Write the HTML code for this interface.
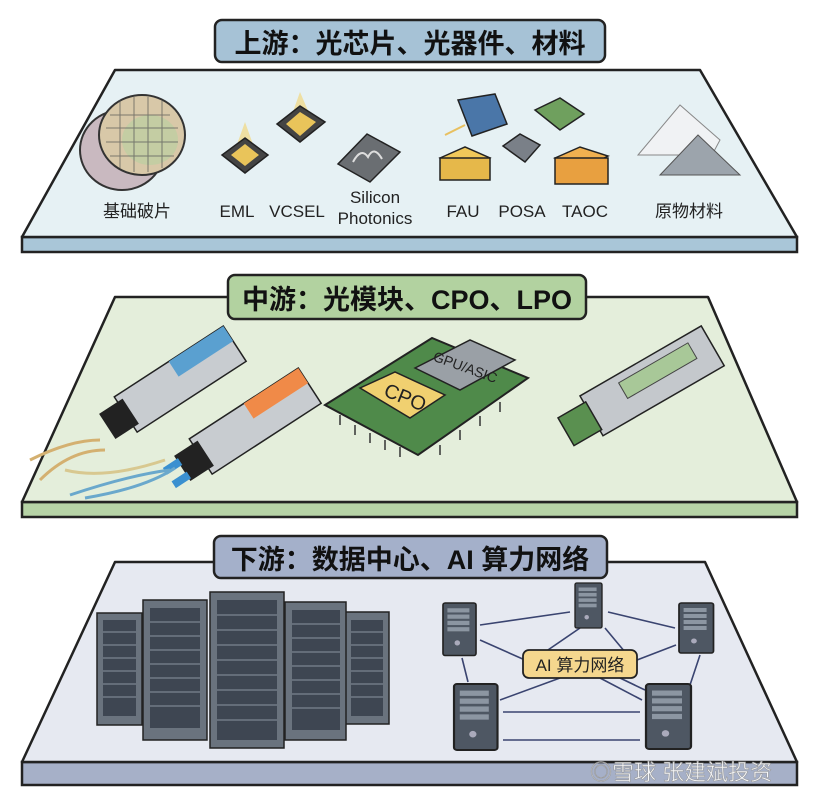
<!DOCTYPE html>
<html><head><meta charset="utf-8"><style>
html,body{margin:0;padding:0;background:#fff;width:816px;height:798px;overflow:hidden}
svg{display:block}
text{font-family:"Liberation Sans","Noto Sans CJK SC",sans-serif}
</style></head><body>
<svg width="816" height="798" viewBox="0 0 816 798" xmlns="http://www.w3.org/2000/svg">
<defs>
<g id="srv">
<rect x="0" y="0" width="30" height="50" rx="2" fill="#4e5763" stroke="#222" stroke-width="1.5"/>
<rect x="4" y="5" width="20" height="4" fill="#8c96a2"/><rect x="4" y="11" width="20" height="4" fill="#8c96a2"/>
<rect x="4" y="17" width="20" height="4" fill="#8c96a2"/><rect x="4" y="23" width="20" height="4" fill="#8c96a2"/>
<circle cx="13" cy="38" r="2.5" fill="#aab"/></g>
</defs>

<!-- ===== Panel 1 ===== -->
<polygon points="22,237 797,237 797,252 22,252" fill="#a9c6d8" stroke="#222" stroke-width="2.5"/>
<polygon points="115,70 700,70 797,237 22,237" fill="#e6f1f4" stroke="#222" stroke-width="2.5" stroke-linejoin="round"/>
<rect x="215" y="20" width="390" height="42" rx="7" fill="#a6c2d6" stroke="#222" stroke-width="2.5"/>
<text x="410" y="53" font-size="27" font-weight="bold" text-anchor="middle" fill="#111">上游：光芯片、光器件、材料</text>
<!-- wafers -->
<ellipse cx="122" cy="150" rx="42" ry="40" fill="#c9b9c0" stroke="#333" stroke-width="2"/>
<ellipse cx="142" cy="135" rx="43" ry="40" fill="#d8c8a8" stroke="#333" stroke-width="2"/>
<ellipse cx="150" cy="140" rx="28" ry="25" fill="#b8d0a0" opacity=".6"/>
<g stroke="#555" stroke-width="1" opacity=".7">
<line x1="110" y1="115" x2="170" y2="115"/><line x1="106" y1="128" x2="178" y2="128"/><line x1="106" y1="142" x2="178" y2="142"/><line x1="110" y1="156" x2="174" y2="156"/>
<line x1="120" y1="100" x2="120" y2="168"/><line x1="134" y1="97" x2="134" y2="172"/><line x1="148" y1="97" x2="148" y2="172"/><line x1="162" y1="100" x2="162" y2="168"/></g>
<!-- EML -->
<polygon points="245,122 235,150 255,150" fill="#f3d36a" opacity=".6"/>
<polygon points="245,138 268,155 245,173 222,155" fill="#444" stroke="#222" stroke-width="1.5"/>
<polygon points="245,144 259,155 245,166 231,155" fill="#e9c45a"/>
<!-- VCSEL -->
<polygon points="300,92 290,120 312,120" fill="#f3d36a" opacity=".6"/>
<polygon points="300,106 325,122 300,142 277,124" fill="#444" stroke="#222" stroke-width="1.5"/>
<polygon points="300,112 316,122 300,136 286,124" fill="#e9c45a"/>
<!-- Silicon photonics -->
<polygon points="367,134 400,152 370,182 338,164" fill="#6a6e72" stroke="#222" stroke-width="1.5"/>
<path d="M353,162 q8,-15 15,-5 q6,-12 14,2" stroke="#ddd" fill="none" stroke-width="2"/>
<!-- FAU blue -->
<polygon points="458,100 495,94 507,124 472,136" fill="#4a76a8" stroke="#222" stroke-width="1.5"/>
<line x1="445" y1="135" x2="465" y2="125" stroke="#e8c060" stroke-width="2"/>
<!-- green -->
<polygon points="535,110 560,98 584,114 560,130" fill="#6fa05e" stroke="#222" stroke-width="1.5"/>
<!-- gray POSA -->
<polygon points="503,146 520,134 540,145 525,162" fill="#7a8088" stroke="#222" stroke-width="1.5"/>
<!-- yellow FAU -->
<polygon points="440,158 465,147 490,158 465,172" fill="#f0c85a" stroke="#222" stroke-width="1.5"/>
<rect x="440" y="158" width="50" height="22" fill="#e6b84a" stroke="#222" stroke-width="1.5"/>
<!-- orange TAOC -->
<polygon points="555,158 580,147 608,156 585,168" fill="#f0b050" stroke="#222" stroke-width="1.5"/>
<rect x="555" y="158" width="53" height="26" fill="#e8a040" stroke="#222" stroke-width="1.5"/>
<!-- powder -->
<polygon points="638,155 680,105 720,140 712,155" fill="#f0f2f4" stroke="#888" stroke-width="1"/>
<polygon points="660,175 698,135 740,175" fill="#9ca4ac" stroke="#555" stroke-width="1"/>
<g font-size="17" fill="#222" text-anchor="middle">
<text x="137" y="217">基础破片</text><text x="237" y="217">EML</text><text x="297" y="217">VCSEL</text>
<text x="375" y="203">Silicon</text><text x="375" y="224">Photonics</text>
<text x="463" y="217">FAU</text><text x="522" y="217">POSA</text><text x="585" y="217">TAOC</text><text x="689" y="217">原物材料</text></g>

<!-- ===== Panel 2 ===== -->
<polygon points="22,502 797,502 797,517 22,517" fill="#b6d3a6" stroke="#222" stroke-width="2.5"/>
<polygon points="115,297 708,297 797,502 22,502" fill="#e4eedb" stroke="#222" stroke-width="2.5" stroke-linejoin="round"/>
<rect x="228" y="275" width="358" height="44" rx="7" fill="#b2d2a0" stroke="#222" stroke-width="2.5"/>
<text x="407" y="309" font-size="27" font-weight="bold" text-anchor="middle" fill="#111">中游：光模块、CPO、LPO</text>
<!-- SFP 1 -->
<g transform="translate(100,430) rotate(-33)">
<rect x="30" y="-20" width="130" height="42" fill="#c8ccd0" stroke="#222" stroke-width="1.5"/>
<rect x="95" y="-20" width="65" height="18" fill="#5aa0d0"/>
<rect x="8" y="-14" width="28" height="30" fill="#222"/></g>
<path d="M30,460 q40,-20 70,-20 M40,480 q30,-30 65,-30" stroke="#d4b070" stroke-width="3" fill="none"/>
<!-- SFP 2 -->
<g transform="translate(175,472) rotate(-33)">
<rect x="30" y="-20" width="130" height="42" fill="#c8ccd0" stroke="#222" stroke-width="1.5"/>
<rect x="95" y="-20" width="65" height="18" fill="#f08a48"/>
<rect x="8" y="-14" width="28" height="30" fill="#222"/>
<rect x="-8" y="-10" width="18" height="8" fill="#3a90d0"/><rect x="-8" y="6" width="18" height="8" fill="#3a90d0"/></g>
<path d="M70,495 q60,-20 100,-25 M85,498 q60,-10 90,-30" stroke="#6aa8cc" stroke-width="3" fill="none"/>
<path d="M65,470 q40,10 100,-10" stroke="#d8c890" stroke-width="3" fill="none"/>
<!-- CPO board -->
<polygon points="325,405 432,338 528,378 418,455" fill="#4f8a4a" stroke="#222" stroke-width="2"/>
<g stroke="#333" stroke-width="1.5"><line x1="340" y1="415" x2="340" y2="425"/><line x1="355" y1="425" x2="355" y2="435"/><line x1="370" y1="433" x2="370" y2="443"/><line x1="385" y1="440" x2="385" y2="450"/><line x1="400" y1="447" x2="400" y2="457"/><line x1="440" y1="445" x2="440" y2="455"/><line x1="460" y1="430" x2="460" y2="440"/><line x1="480" y1="416" x2="480" y2="426"/><line x1="500" y1="402" x2="500" y2="412"/></g>
<polygon points="415,368 470,340 515,360 460,390" fill="#9aa0a6" stroke="#222" stroke-width="1.5"/>
<text x="465" y="372" font-size="14" fill="#222" text-anchor="middle" transform="rotate(20 465 368)">GPU/ASIC</text>
<polygon points="360,388 395,372 445,395 410,418" fill="#f0d070" stroke="#222" stroke-width="1.5"/>
<text x="405" y="404" font-size="20" fill="#222" text-anchor="middle" transform="rotate(22 405 398)">CPO</text>
<!-- LPO -->
<g transform="translate(565,430) rotate(-30)">
<rect x="30" y="-22" width="140" height="46" fill="#c4c8cc" stroke="#222" stroke-width="1.5"/>
<rect x="70" y="-14" width="80" height="18" fill="#a8c898" stroke="#444"/>
<rect x="0" y="-14" width="32" height="32" fill="#5a9050" stroke="#222" stroke-width="1.5"/></g>

<!-- ===== Panel 3 ===== -->
<polygon points="22,762 797,762 797,785 22,785" fill="#a6b0c8" stroke="#222" stroke-width="2.5"/>
<polygon points="115,562 705,562 797,762 22,762" fill="#e6e9f1" stroke="#222" stroke-width="2.5" stroke-linejoin="round"/>
<rect x="214" y="536" width="393" height="42" rx="7" fill="#a4b0ca" stroke="#222" stroke-width="2.5"/>
<text x="410" y="569" font-size="27" font-weight="bold" text-anchor="middle" fill="#111">下游：数据中心、AI 算力网络</text>
<!-- racks -->
<g stroke="#222" stroke-width="1.5">
<rect x="97" y="613" width="45" height="112" fill="#6a737e"/>
<rect x="143" y="600" width="64" height="140" fill="#6a737e"/>
<rect x="345" y="612" width="44" height="112" fill="#6a737e"/>
<rect x="285" y="602" width="61" height="138" fill="#6a737e"/>
<rect x="210" y="592" width="74" height="156" fill="#6a737e"/></g>
<g fill="#3e4652">
<rect x="103" y="620" width="33" height="96"/><rect x="150" y="608" width="50" height="120"/>
<rect x="217" y="600" width="60" height="140"/><rect x="292" y="610" width="48" height="120"/><rect x="351" y="620" width="32" height="96"/></g>
<g stroke="#8a94a0" stroke-width="1">
<line x1="103" y1="632" x2="136" y2="632"/><line x1="103" y1="645" x2="136" y2="645"/><line x1="103" y1="658" x2="136" y2="658"/><line x1="103" y1="671" x2="136" y2="671"/><line x1="103" y1="684" x2="136" y2="684"/><line x1="103" y1="697" x2="136" y2="697"/>
<line x1="150" y1="622" x2="200" y2="622"/><line x1="150" y1="636" x2="200" y2="636"/><line x1="150" y1="650" x2="200" y2="650"/><line x1="150" y1="664" x2="200" y2="664"/><line x1="150" y1="678" x2="200" y2="678"/><line x1="150" y1="692" x2="200" y2="692"/><line x1="150" y1="706" x2="200" y2="706"/>
<line x1="217" y1="615" x2="277" y2="615"/><line x1="217" y1="630" x2="277" y2="630"/><line x1="217" y1="645" x2="277" y2="645"/><line x1="217" y1="660" x2="277" y2="660"/><line x1="217" y1="675" x2="277" y2="675"/><line x1="217" y1="690" x2="277" y2="690"/><line x1="217" y1="705" x2="277" y2="705"/><line x1="217" y1="720" x2="277" y2="720"/>
<line x1="292" y1="624" x2="340" y2="624"/><line x1="292" y1="638" x2="340" y2="638"/><line x1="292" y1="652" x2="340" y2="652"/><line x1="292" y1="666" x2="340" y2="666"/><line x1="292" y1="680" x2="340" y2="680"/><line x1="292" y1="694" x2="340" y2="694"/><line x1="292" y1="708" x2="340" y2="708"/>
<line x1="351" y1="632" x2="383" y2="632"/><line x1="351" y1="645" x2="383" y2="645"/><line x1="351" y1="658" x2="383" y2="658"/><line x1="351" y1="671" x2="383" y2="671"/><line x1="351" y1="684" x2="383" y2="684"/><line x1="351" y1="697" x2="383" y2="697"/></g>
<!-- network lines -->
<g stroke="#3a4470" stroke-width="1.6">
<line x1="480" y1="625" x2="570" y2="612"/><line x1="608" y1="612" x2="675" y2="628"/>
<line x1="480" y1="640" x2="525" y2="660"/><line x1="580" y1="628" x2="545" y2="652"/><line x1="605" y1="628" x2="625" y2="652"/>
<line x1="676" y1="645" x2="637" y2="660"/><line x1="462" y1="658" x2="468" y2="682"/><line x1="700" y1="655" x2="690" y2="685"/>
<line x1="500" y1="700" x2="560" y2="678"/><line x1="600" y1="678" x2="642" y2="700"/>
<line x1="503" y1="712" x2="640" y2="712"/><line x1="503" y1="740" x2="640" y2="740"/>
<line x1="620" y1="678" x2="645" y2="690"/></g>
<use href="#srv" transform="translate(443,603) scale(1.1,1.05)"/>
<use href="#srv" transform="translate(575,583) scale(0.9,0.9)"/>
<use href="#srv" transform="translate(679,603) scale(1.15,1)"/>
<use href="#srv" transform="translate(454,684) scale(1.45,1.32)"/>
<use href="#srv" transform="translate(646,684) scale(1.5,1.3)"/>
<rect x="523" y="650" width="114" height="28" rx="6" fill="#f5d78e" stroke="#222" stroke-width="1.8"/>
<text x="580" y="671" font-size="17" text-anchor="middle" fill="#222">AI 算力网络</text>
<text x="590" y="780" font-size="22" fill="#ffffff" stroke="#999" stroke-width=".6" opacity=".9">◎雪球 张建斌投资</text>
</svg>
</body></html>
